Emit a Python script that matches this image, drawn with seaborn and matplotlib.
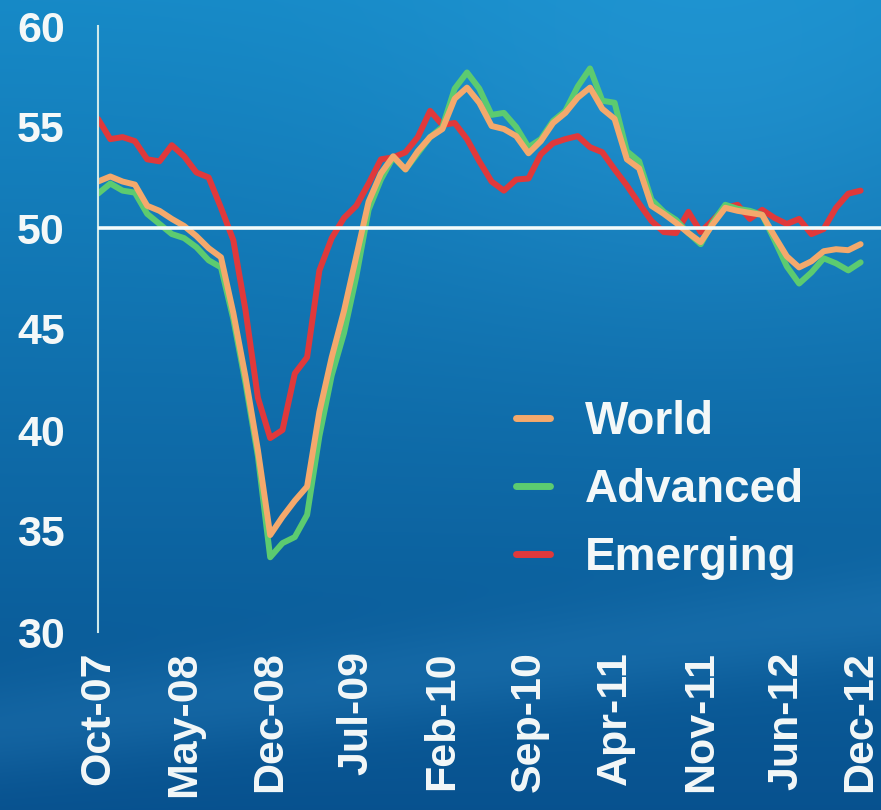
import numpy as np
import pandas as pd
import matplotlib
matplotlib.use("Agg")
import matplotlib.pyplot as plt
import seaborn as sns
from matplotlib.lines import Line2D

# Monthly PMI readings, Oct-2007 .. Dec-2012
months = pd.date_range("2007-10-01", "2012-12-01", freq="MS")

world = [
    52.3, 52.55, 52.3, 52.15, 51.1, 50.85, 50.45, 50.1, 49.6, 49.0,
    48.55, 45.8, 42.6, 39.0, 34.8, 35.7, 36.5, 37.2, 40.9, 43.6,
    45.9, 48.6, 51.3, 52.7, 53.55, 52.9, 53.8, 54.5, 54.9, 56.4,
    56.95, 56.2, 55.05, 54.9, 54.55, 53.7, 54.3, 55.2, 55.7, 56.45,
    56.95, 55.9, 55.4, 53.4, 52.95, 51.1, 50.7, 50.25, 49.75, 49.3,
    50.2, 51.0, 50.85, 50.75, 50.65, 49.6, 48.6, 48.05, 48.35, 48.85,
    48.95, 48.9, 49.2,
]
advanced = [
    51.7, 52.2, 51.85, 51.75, 50.7, 50.2, 49.7, 49.5, 49.05, 48.4,
    48.05, 45.5, 42.3, 38.7, 33.7, 34.4, 34.7, 35.8, 39.7, 42.7,
    44.8, 47.6, 50.9, 52.4, 53.5, 52.9, 53.7, 54.5, 55.0, 56.9,
    57.7, 56.9, 55.6, 55.7, 55.0, 54.0, 54.4, 55.3, 55.8, 57.0,
    57.9, 56.3, 56.2, 53.8, 53.3, 51.4, 50.8, 50.4, 49.75, 49.2,
    50.3, 51.15, 50.95, 50.85, 50.65, 49.4, 48.1, 47.25, 47.8, 48.5,
    48.25, 47.9, 48.3,
]
emerging = [
    55.4, 54.4, 54.5, 54.3, 53.4, 53.3, 54.1, 53.55, 52.75, 52.5,
    51.0, 49.4, 45.9, 41.6, 39.6, 40.0, 42.8, 43.6, 47.9, 49.5,
    50.5, 51.1, 52.2, 53.4, 53.5, 53.75, 54.5, 55.8, 55.1, 55.2,
    54.4, 53.3, 52.3, 51.85, 52.4, 52.45, 53.65, 54.2, 54.4, 54.55,
    54.0, 53.75, 52.9, 52.1, 51.2, 50.35, 49.8, 49.75, 50.8, 49.8,
    50.4, 51.0, 51.15, 50.45, 50.9, 50.5, 50.2, 50.45, 49.7, 49.95,
    51.0, 51.7, 51.85,
]

tick_positions = [0, 7, 14, 21, 28, 35, 42, 49, 56, 62]
tick_labels = ["Oct-07", "May-08", "Dec-08", "Jul-09", "Feb-10",
               "Sep-10", "Apr-11", "Nov-11", "Jun-12", "Dec-12"]
y_ticks = [30, 35, 40, 45, 50, 55, 60]

series_names = ["World", "Advanced", "Emerging"]
colors = {"World": "#f4a96c", "Advanced": "#5ccb70", "Emerging": "#e0393b"}

idx = np.arange(len(months))
df = pd.concat([
    pd.DataFrame({"t": idx, "value": world, "series": "World"}),
    pd.DataFrame({"t": idx, "value": advanced, "series": "Advanced"}),
    pd.DataFrame({"t": idx, "value": emerging, "series": "Emerging"}),
], ignore_index=True)

sns.set_theme(style="white")
plt.rcParams["font.family"] = ["Liberation Sans", "DejaVu Sans"]
plt.rcParams["font.weight"] = "bold"

W, H = 881, 810
fig = plt.figure(figsize=(W / 100, H / 100), dpi=100)

# Blue gradient backdrop
yy, xx = np.mgrid[0:H, 0:W]
u = xx / W
v = yy / H
top = np.array([0.09, 0.54, 0.78])
bot = np.array([0.03, 0.32, 0.56])
img = top[None, None, :] * (1 - v[..., None]) + bot[None, None, :] * v[..., None]
glow = 0.045 * np.exp(-(((u - 0.8) ** 2) / 0.12 + ((v - 0.12) ** 2) / 0.08))
d = v - (0.90 - 0.14 * u)
sheen = 0.05 * np.exp(-(d / 0.06) ** 2)
img = np.clip(img + (glow + sheen)[..., None] * np.array([0.8, 1.0, 1.0]), 0, 1)
bg = fig.add_axes([0, 0, 1, 1], zorder=0)
bg.imshow(img, aspect="auto", interpolation="bilinear")
bg.axis("off")

x0, x1 = 98, 881
y_top, y_bot = 26, 632
ax = fig.add_axes([x0 / W, (H - y_bot) / H, (x1 - x0) / W, (y_bot - y_top) / H], zorder=1)
ax.set_facecolor("none")

sns.lineplot(data=df, x="t", y="value", hue="series",
             hue_order=["Emerging", "Advanced", "World"],
             palette=colors, linewidth=4.3, ax=ax, legend=False)

ax.axhline(50, color="#f2fbfb", linewidth=2.6, zorder=5)

ax.set_xlim(0, (x1 - x0) / 12.3)
ax.set_ylim(30, 60)
ax.set_xticks(tick_positions)
ax.set_xticklabels(tick_labels, rotation=90)
ax.set_yticks(y_ticks)
ax.set_xlabel("")
ax.set_ylabel("")

txt = "#f4f8f8"
for s in ["top", "right", "bottom"]:
    ax.spines[s].set_visible(False)
ax.spines["left"].set_color("#cfe9ea")
ax.spines["left"].set_linewidth(1.5)
ax.tick_params(axis="y", direction="in", length=6, width=1.4, color="#cfe9ea",
               labelsize=31, labelcolor=txt, pad=24)
ax.tick_params(axis="x", length=0, labelsize=31, labelcolor=txt, pad=14)
for lab in ax.get_xticklabels() + ax.get_yticklabels():
    lab.set_fontweight("bold")

handles = [Line2D([0], [0], color=colors[n], linewidth=5) for n in series_names]
leg = ax.legend(handles, series_names, loc="upper left",
                bbox_to_anchor=(493 / W, 1 - 377 / H), bbox_transform=fig.transFigure,
                frameon=False, borderpad=0, handlelength=0.75, handletextpad=0.75,
                labelspacing=0.52, prop={"size": 33, "weight": "bold"})
for t in leg.get_texts():
    t.set_color(txt)

fig.savefig("out.png", dpi=100)
